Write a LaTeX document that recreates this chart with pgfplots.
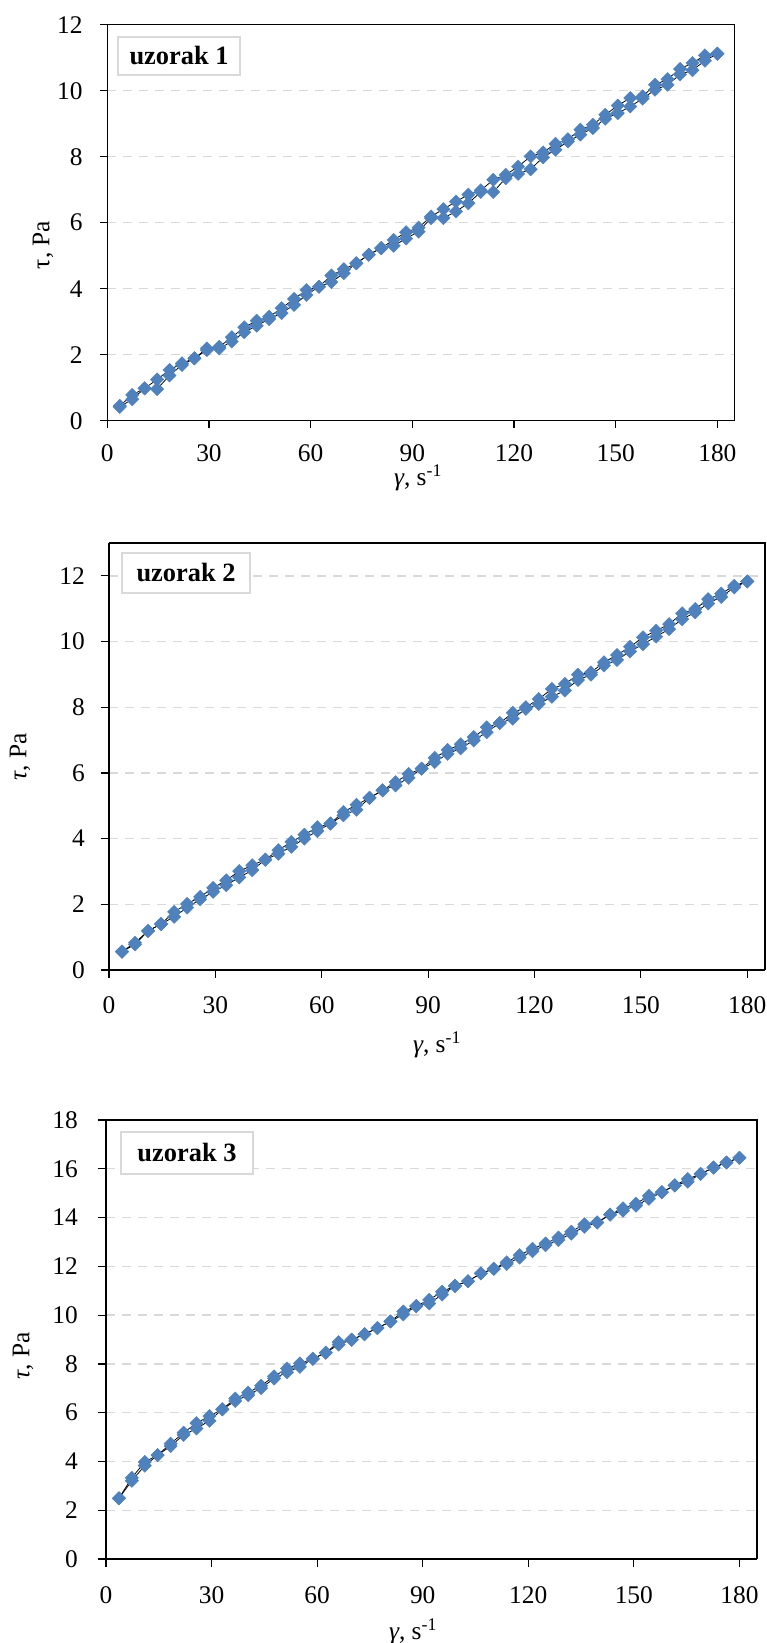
\documentclass[border=0pt]{standalone}
\usepackage{pgfplots}
\pgfplotsset{compat=1.18}
\usepackage{pgfplotstable}
\usepackage{fontspec}
\setmainfont{Liberation Serif}
\definecolor{mk}{HTML}{4F81BD}
\definecolor{gridc}{HTML}{D9D9D9}

\pgfplotstableread{
x a b
3.67 0.45 0.42
7.35 0.78 0.65
11.02 0.98 0.98
14.69 1.25 0.96
18.37 1.54 1.37
22.04 1.74 1.69
25.71 1.89 1.89
29.39 2.19 2.14
33.06 2.24 2.19
36.73 2.53 2.40
40.41 2.83 2.68
44.08 3.03 2.88
47.76 3.15 3.08
51.43 3.41 3.26
55.10 3.69 3.51
58.78 3.96 3.81
62.45 4.06 4.06
66.12 4.40 4.20
69.80 4.59 4.47
73.47 4.77 4.77
77.14 5.03 5.03
80.82 5.23 5.23
84.49 5.48 5.30
88.16 5.71 5.52
91.84 5.85 5.73
95.51 6.19 6.14
99.18 6.41 6.14
102.86 6.64 6.34
106.53 6.85 6.59
110.20 6.98 6.93
113.88 7.30 6.93
117.55 7.45 7.35
121.22 7.70 7.48
124.90 8.01 7.62
128.57 8.13 7.98
132.24 8.39 8.21
135.92 8.53 8.46
139.59 8.82 8.67
143.27 8.97 8.87
146.94 9.27 9.15
150.61 9.55 9.32
154.29 9.78 9.52
157.96 9.83 9.76
161.63 10.18 10.03
165.31 10.35 10.18
168.98 10.66 10.49
172.65 10.84 10.62
176.33 11.07 10.91
180.00 11.12 11.12
}\dataA

\pgfplotstableread{
x a b
3.67 0.56 0.56
7.35 0.83 0.78
11.02 1.19 1.19
14.69 1.40 1.40
18.37 1.77 1.62
22.04 2.01 1.90
25.71 2.23 2.15
29.39 2.50 2.38
33.06 2.73 2.58
36.73 3.01 2.82
40.41 3.19 3.04
44.08 3.36 3.36
47.76 3.65 3.54
51.43 3.90 3.75
55.10 4.12 4.00
58.78 4.35 4.23
62.45 4.46 4.46
66.12 4.81 4.71
69.80 5.03 4.88
73.47 5.24 5.24
77.14 5.47 5.47
80.82 5.72 5.62
84.49 5.97 5.85
88.16 6.13 6.13
91.84 6.46 6.33
95.51 6.70 6.58
99.18 6.87 6.75
102.86 7.09 6.99
106.53 7.39 7.24
110.20 7.52 7.52
113.88 7.83 7.65
117.55 8.00 7.95
121.22 8.25 8.10
124.90 8.56 8.32
128.57 8.71 8.51
132.24 8.99 8.83
135.92 9.06 8.99
139.59 9.37 9.27
143.27 9.59 9.44
146.94 9.84 9.70
150.61 10.13 9.92
154.29 10.33 10.15
157.96 10.53 10.38
161.63 10.86 10.68
165.31 10.99 10.89
168.98 11.29 11.16
172.65 11.46 11.36
176.33 11.70 11.65
180.00 11.83 11.83
}\dataB

\pgfplotstableread{
x a b
3.67 2.49 2.49
7.35 3.33 3.21
11.02 3.98 3.83
14.69 4.26 4.26
18.37 4.73 4.63
22.04 5.18 5.09
25.71 5.57 5.35
29.39 5.86 5.67
33.06 6.14 6.14
36.73 6.58 6.48
40.41 6.82 6.72
44.08 7.11 7.01
47.76 7.49 7.40
51.43 7.81 7.66
55.10 8.02 7.88
58.78 8.21 8.21
62.45 8.46 8.46
66.12 8.89 8.79
69.80 8.99 8.99
73.47 9.22 9.22
77.14 9.47 9.47
80.82 9.74 9.74
84.49 10.15 10.03
88.16 10.37 10.37
91.84 10.63 10.48
95.51 10.96 10.84
99.18 11.20 11.20
102.86 11.39 11.39
106.53 11.71 11.71
110.20 11.90 11.90
113.88 12.17 12.10
117.55 12.46 12.36
121.22 12.72 12.62
124.90 12.94 12.87
128.57 13.18 13.08
132.24 13.42 13.34
135.92 13.73 13.62
139.59 13.80 13.80
143.27 14.12 14.12
146.94 14.38 14.28
150.61 14.57 14.49
154.29 14.89 14.77
157.96 15.04 15.04
161.63 15.32 15.32
165.31 15.58 15.47
168.98 15.79 15.79
172.65 16.05 16.05
176.33 16.26 16.26
180.00 16.45 16.45
}\dataC

\pgfplotsset{
  panel/.style={
    scale only axis,
    xmin=0, xmax=185,
    ymin=0,
    xtick={0,30,...,180},
    axis x line*=bottom,
    axis y line*=left,
    tick align=outside,
    major tick length=7.5bp,
    every tick/.style={black, line width=1.2bp},
    axis line style={black, line width=1.4bp},
    ymajorgrids,
    major grid style={draw=gridc, line width=1.3bp, dash pattern=on 9bp off 7bp},
    /pgf/number format/assume math mode=true,
    tick label style={font=\fontsize{25.5}{25.5}\selectfont},
    clip=false,
    label style={font=\fontsize{25.5}{25.5}\selectfont},
  },
  ser/.style={black, line width=0.8bp, mark=square*,
    mark options={fill=mk, draw=mk, rotate=45, line width=0.4bp}, mark size=4.7bp},
}

\begin{document}
\begin{tikzpicture}
\useasboundingbox (0,0) rectangle (767bp,-1643bp);

% ---------- panel 1 ----------
\begin{axis}[panel,
  at={(107.3bp,-420.7bp)}, anchor=south west,
  width=627bp, height=396bp,
  ymax=12, ytick={0,2,...,12},
  yticklabel style={anchor=east, inner sep=0pt, xshift=-17bp},
  xticklabel style={anchor=center, inner sep=0pt, yshift=-25bp},
  xlabel={\textit{γ}, s\textsuperscript{-1}},
  ylabel={τ, Pa},
  xlabel style={at={(axis description cs:0.4955,-0.1447)}, anchor=center},
  ylabel style={at={(axis description cs:-0.1026,0.4437)}, anchor=center},
]
\draw[black, line width=1.4bp] (rel axis cs:0,1) -- (rel axis cs:1,1) -- (rel axis cs:1,0);
\addplot[ser] table[x=x, y=a] {\dataA};
\addplot[ser] table[x=x, y=b] {\dataA};
\node[draw=gridc, line width=1.2bp, fill=white, minimum width=122bp, minimum height=38bp,
  font=\bfseries\fontsize{26.5}{26.5}\selectfont] at (axis description cs:0.1144,0.921) {uzorak 1};
\end{axis}

% ---------- panel 2 ----------
\begin{axis}[panel,
  at={(109bp,-970bp)}, anchor=south west,
  width=656bp, height=427bp,
  ymax=13, ytick={0,2,...,12},
  yticklabel style={anchor=east, inner sep=0pt, xshift=-16.5bp},
  xticklabel style={anchor=center, inner sep=0pt, yshift=-28bp},
  xlabel={\textit{γ}, s\textsuperscript{-1}},
  ylabel={\textit{τ}, Pa},
  xlabel style={at={(axis description cs:0.5,-0.1756)}, anchor=center},
  ylabel style={at={(axis description cs:-0.1357,0.499)}, anchor=center},
]
\draw[black, line width=1.4bp] (rel axis cs:0,1) -- (rel axis cs:1,1) -- (rel axis cs:1,0);
\addplot[ser] table[x=x, y=a] {\dataB};
\addplot[ser] table[x=x, y=b] {\dataB};
\node[draw=gridc, line width=1.2bp, fill=white, minimum width=128bp, minimum height=40bp,
  font=\bfseries\fontsize{26.5}{26.5}\selectfont] at (axis description cs:0.1174,0.930) {uzorak 2};
\end{axis}

% ---------- panel 3 ----------
\begin{axis}[panel,
  at={(106bp,-1559bp)}, anchor=south west,
  width=651bp, height=439bp,
  ymax=18, ytick={0,2,...,18},
  yticklabel style={anchor=east, inner sep=0pt, xshift=-20.5bp},
  xticklabel style={anchor=center, inner sep=0pt, yshift=-29bp},
  xlabel={\textit{γ}, s\textsuperscript{-1}},
  ylabel={\textit{τ}, Pa},
  xlabel style={at={(axis description cs:0.4716,-0.1663)}, anchor=center},
  ylabel style={at={(axis description cs:-0.1275,0.4624)}, anchor=center},
]
\draw[black, line width=1.4bp] (rel axis cs:0,1) -- (rel axis cs:1,1) -- (rel axis cs:1,0);
\addplot[ser] table[x=x, y=a] {\dataC};
\addplot[ser] table[x=x, y=b] {\dataC};
\node[draw=gridc, line width=1.2bp, fill=white, minimum width=132bp, minimum height=42bp,
  font=\bfseries\fontsize{26.5}{26.5}\selectfont] at (axis description cs:0.1244,0.925) {uzorak 3};
\end{axis}
\end{tikzpicture}
\end{document}
